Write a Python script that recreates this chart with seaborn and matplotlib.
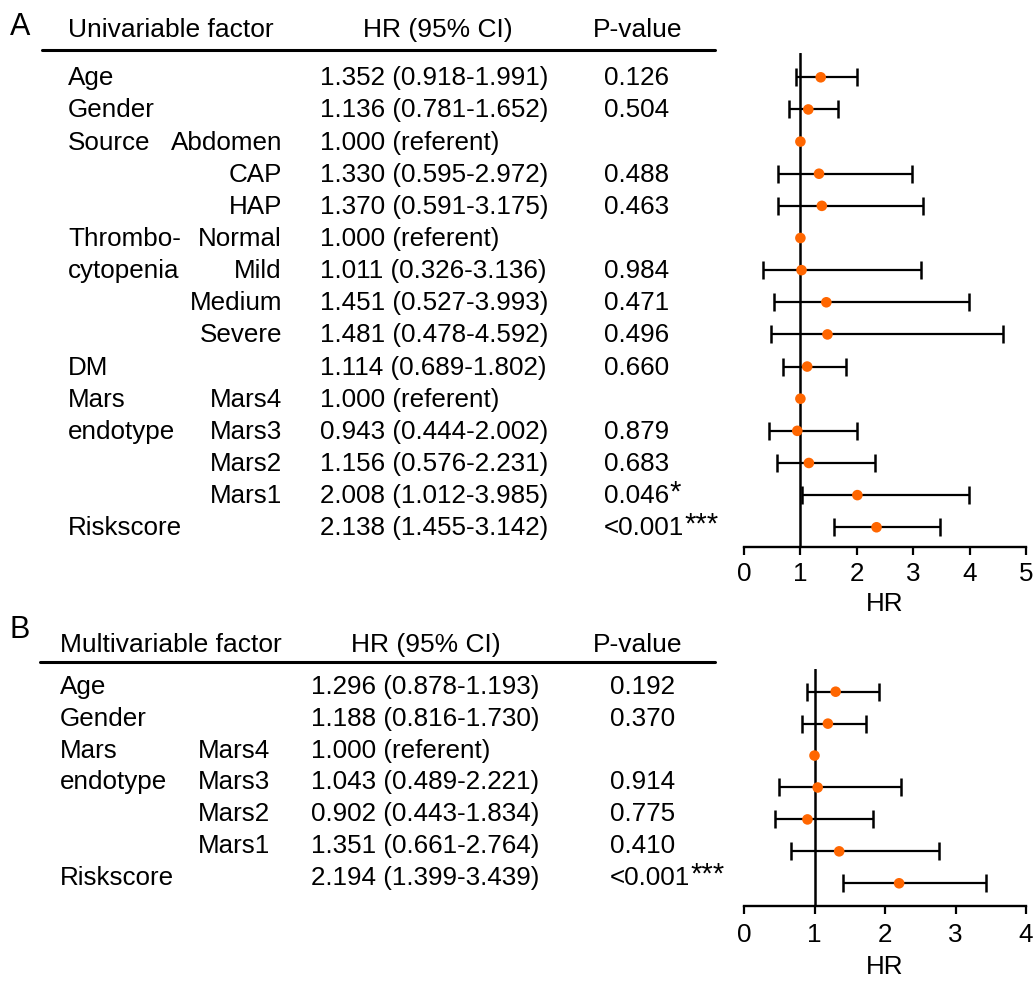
import numpy as np
import seaborn as sns
import matplotlib
matplotlib.use("Agg")
import matplotlib.pyplot as plt
from matplotlib.transforms import blended_transform_factory

# ---- dados painel A (univariavel) ----
fatorA = ["Age", "Gender", "Source", "", "", "Thrombo-", "cytopenia", "", "",
          "DM", "Mars", "endotype", "", "", "Riskscore"]
nivelA = ["", "", "Abdomen", "CAP", "HAP", "Normal", "Mild", "Medium", "Severe",
          "", "Mars4", "Mars3", "Mars2", "Mars1", ""]
hr_txtA = ["1.352 (0.918-1.991)", "1.136 (0.781-1.652)", "1.000 (referent)",
           "1.330 (0.595-2.972)", "1.370 (0.591-3.175)", "1.000 (referent)",
           "1.011 (0.326-3.136)", "1.451 (0.527-3.993)", "1.481 (0.478-4.592)",
           "1.114 (0.689-1.802)", "1.000 (referent)", "0.943 (0.444-2.002)",
           "1.156 (0.576-2.231)", "2.008 (1.012-3.985)", "2.138 (1.455-3.142)"]
pA = ["0.126", "0.504", "", "0.488", "0.463", "", "0.984", "0.471", "0.496",
      "0.660", "", "0.879", "0.683", "0.046", "<0.001"]
starsA = ["", "", "", "", "", "", "", "", "", "", "", "", "", "*", "***"]
# valores
hrA = [1.36, 1.14, 1.0, 1.33, 1.38, 1.0, 1.02, 1.46, 1.48, 1.12, 1.0, 0.945, 1.15, 2.01, 2.35]
loA = [0.92, 0.79, np.nan, 0.60, 0.60, np.nan, 0.34, 0.53, 0.48, 0.69, np.nan, 0.44, 0.58, 1.02, 1.60]
hiA = [2.00, 1.66, np.nan, 2.98, 3.17, np.nan, 3.14, 3.99, 4.59, 1.81, np.nan, 2.00, 2.32, 3.99, 3.47]

# ---- dados painel B (multivariavel) ----
fatorB = ["Age", "Gender", "Mars", "endotype", "", "", "Riskscore"]
nivelB = ["", "", "Mars4", "Mars3", "Mars2", "Mars1", ""]
hr_txtB = ["1.296 (0.878-1.193)", "1.188 (0.816-1.730)", "1.000 (referent)",
           "1.043 (0.489-2.221)", "0.902 (0.443-1.834)", "1.351 (0.661-2.764)",
           "2.194 (1.399-3.439)"]
pB = ["0.192", "0.370", "", "0.914", "0.775", "0.410", "<0.001"]
starsB = ["", "", "", "", "", "", "***"]
hrB = [1.30, 1.19, 1.0, 1.045, 0.90, 1.35, 2.20]
loB = [0.89, 0.82, np.nan, 0.50, 0.44, 0.67, 1.41]
hiB = [1.92, 1.735, np.nan, 2.23, 1.83, 2.77, 3.43]

sns.set_style("white")
plt.rcParams['font.family'] = ['Liberation Sans', 'DejaVu Sans']
plt.rcParams['text.color'] = 'black'
plt.rcParams['axes.labelcolor'] = 'black'
plt.rcParams['xtick.color'] = 'black'
plt.rcParams['axes.edgecolor'] = 'black'

W, H = 1035, 981
fig = plt.figure(figsize=(W / 100, H / 100), dpi=100)
tab = fig.add_axes([0, 0, 1, 1])
tab.set_xlim(0, W)
tab.set_ylim(H, 0)
tab.axis("off")

LARANJA = "#FF6600"
FS = 18.7


def painel(letra, titulo, fator, nivel, hr_txt, p, stars, hr, lo, hi, xmax,
           lay):
    n = len(hr)
    # eixo da floresta em pixels
    x0, x1 = 744, 1026
    top, eixo, r0, passo = lay["top"], lay["eixo"], lay["r0"], lay["passo"]
    ax = fig.add_axes([x0 / W, 1 - eixo / H, (x1 - x0) / W, (eixo - top) / H])
    ax.set_xlim(0, xmax)
    ax.set_ylim(n - 1 + (eixo - (r0 + (n - 1) * passo)) / passo, -(r0 - top) / passo)
    ax.axvline(1, color="black", lw=1.8, zorder=2)

    rows = np.arange(n)
    hr = np.array(hr)
    lo = np.array(lo)
    hi = np.array(hi)
    ok = ~np.isnan(lo)
    ax.errorbar(hr[ok], rows[ok], xerr=[hr[ok] - lo[ok], hi[ok] - hr[ok]],
                fmt="none", ecolor="black", elinewidth=1.6, capsize=6.5,
                capthick=1.8, zorder=3)
    sns.scatterplot(x=hr, y=rows, ax=ax, color=LARANJA, s=58,
                    edgecolor="none", zorder=5, legend=False)

    for s in ["top", "right", "left"]:
        ax.spines[s].set_visible(False)
    ax.spines["bottom"].set_linewidth(1.7)
    ax.set_yticks([])
    ax.set_xticks(range(xmax + 1))
    ax.tick_params(axis="x", direction="out", length=6, width=1.6,
                   labelsize=FS, pad=lay["pad"], bottom=True)
    ax.set_xlabel("HR", fontsize=FS, labelpad=lay["lpad"])
    ax.set_ylabel("")

    # textos da tabela
    tr = blended_transform_factory(tab.transData, ax.transData)
    off = lay["off"] / passo
    cx = lay["cols"]
    for i in range(n):
        y = i + off
        if fator[i]:
            ax.text(cx[0], y, fator[i], transform=tr, fontsize=FS, va="baseline")
        if nivel[i]:
            ax.text(cx[1], y, nivel[i], transform=tr, fontsize=FS, va="baseline",
                    ha="right")
        ax.text(cx[2], y, hr_txt[i], transform=tr, fontsize=FS, va="baseline")
        if p[i]:
            t = ax.text(cx[3], y, p[i], transform=tr, fontsize=FS, va="baseline")
            if stars[i]:
                ax.annotate(stars[i], xy=(1, 1), xycoords=t, xytext=(0.5, 4),
                            textcoords="offset points", va="top", ha="left",
                            fontsize=21)

    # cabecalho
    hb = lay["hbase"]
    tab.text(10, lay["lbase"], letra, fontsize=22, va="baseline")
    tab.text(cx[0], hb, titulo, fontsize=19, va="baseline")
    tab.text(lay["hrc"], hb, "HR (95% CI)", fontsize=19, va="baseline", ha="center")
    tab.text(638, hb, "P-value", fontsize=19, va="baseline", ha="center")
    tab.plot([lay["lx"], 715], [lay["ly"], lay["ly"]], color="black", lw=2.2)
    return ax


layA = dict(top=52.7, eixo=546.7, r0=77.3, passo=32.14, pad=5, lpad=4, off=8.0,
            cols=[68, 282, 320, 604], hbase=37, lbase=35, hrc=438, lx=42, ly=50)
layB = dict(top=669, eixo=905.7, r0=691.7, passo=31.93, pad=6.5, lpad=6, off=2.0,
            cols=[60, 270, 311, 610], hbase=652, lbase=638, hrc=426, lx=40, ly=662)

painel("A", "Univariable factor", fatorA, nivelA, hr_txtA, pA, starsA,
       hrA, loA, hiA, 5, layA)
painel("B", "Multivariable factor", fatorB, nivelB, hr_txtB, pB, starsB,
       hrB, loB, hiB, 4, layB)

fig.savefig("out.png", dpi=100, facecolor="white")
